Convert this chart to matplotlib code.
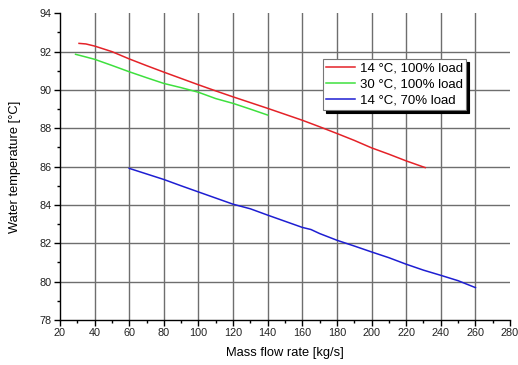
import matplotlib.pyplot as plt
import numpy as np

plt.rcParams['font.family'] = ['Liberation Sans', 'DejaVu Sans']

# 14 °C, 100% load
x_red = [31, 35, 40, 50, 60, 70, 80, 90, 100, 110, 120, 130, 140, 150, 160,
         170, 180, 190, 200, 210, 220, 231]
y_red = [92.43, 92.40, 92.29, 92.0, 91.62, 91.27, 90.93, 90.6, 90.27, 89.95,
         89.64, 89.34, 89.04, 88.73, 88.42, 88.08, 87.73, 87.37, 86.98, 86.65,
         86.3, 85.95]

# 30 °C, 100% load
x_green = [29, 35, 40, 50, 60, 70, 80, 90, 100, 110, 120, 130, 140]
y_green = [91.86, 91.72, 91.6, 91.28, 90.95, 90.64, 90.34, 90.12, 89.88,
           89.55, 89.3, 89.0, 88.69]

# 14 °C, 70% load
x_blue = [60, 70, 80, 90, 100, 110, 120, 130, 140, 150, 160, 165, 170, 180,
          190, 200, 210, 220, 230, 240, 250, 260]
y_blue = [85.91, 85.62, 85.33, 85.0, 84.68, 84.36, 84.04, 83.80, 83.47, 83.15,
          82.83, 82.72, 82.51, 82.16, 81.86, 81.55, 81.25, 80.91, 80.6, 80.33,
          80.05, 79.69]

labels = ['14 °C, 100% load', '30 °C, 100% load', '14 °C, 70% load']

fig = plt.figure(figsize=(5.18, 3.65), dpi=100)
ax = fig.add_axes([0.1158, 0.1233, 0.8688, 0.8403])

ax.plot(x_red, y_red, color='#e42228', lw=1.1, label=labels[0])
ax.plot(x_green, y_green, color='#3ee03e', lw=1.1, label=labels[1])
ax.plot(x_blue, y_blue, color='#1e1ed2', lw=1.1, label=labels[2])

ax.set_xlim(20, 280)
ax.set_ylim(78, 94)
ax.set_xticks(np.arange(20, 281, 20))
ax.set_yticks(np.arange(78, 95, 2))
ax.set_xticks(np.arange(30, 280, 20), minor=True)
ax.set_yticks(np.arange(79, 94, 2), minor=True)

ax.grid(True, which='major', color='#6e6e6e', lw=1.0)
ax.set_axisbelow(True)
# no grid line on top / right border
ax.xaxis.get_gridlines()[0].set_visible(False)
ax.xaxis.get_gridlines()[-1].set_visible(False)
ax.yaxis.get_gridlines()[0].set_visible(False)
ax.yaxis.get_gridlines()[-1].set_visible(False)

for s in ['top', 'right']:
    ax.spines[s].set_visible(False)
for s in ['left', 'bottom']:
    ax.spines[s].set_color('black')
    ax.spines[s].set_linewidth(1.0)

ax.tick_params(which='major', direction='out', length=4, width=1,
               labelsize=7.8, colors='black', labelcolor='#222222', pad=2)
ax.tick_params(which='minor', direction='out', length=2.5, width=1)

ax.set_xlabel('Mass flow rate [kg/s]', fontsize=9.3, labelpad=6)
ax.set_ylabel('Water temperature [°C]', fontsize=9.3, labelpad=13)

leg = ax.legend(loc='upper left', bbox_to_anchor=(0.584, 0.85),
                borderaxespad=0, fontsize=9.5, handlelength=2.2,
                handletextpad=0.35, labelspacing=0.27, borderpad=0.25,
                fancybox=False, framealpha=1,
                shadow={'color': 'black', 'alpha': 1})
leg.get_frame().set_edgecolor('#777777')
leg.get_frame().set_linewidth(0.8)

fig.savefig('out.png', dpi=100)
